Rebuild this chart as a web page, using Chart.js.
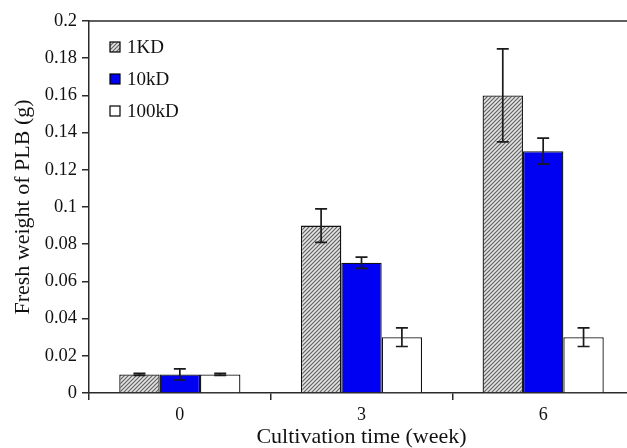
<!DOCTYPE html>
<html>
<head>
<meta charset="utf-8">
<script src="https://cdn.jsdelivr.net/npm/chart.js@4.4.0/dist/chart.umd.min.js"></script>
<style>
  html, body { margin: 0; padding: 0; background: #fff; overflow: hidden; }
  #wrap { width: 627px; height: 448px; overflow: hidden; }
</style>
</head>
<body>
<div id="wrap"><canvas id="plbChart" width="660" height="448"></canvas></div>
<script>
// Data
const weeks = ['0', '3', '6'];
const oneKD = [0.01, 0.09, 0.16];
const oneKDErr = [0.0005, 0.009, 0.025];
const tenKD = [0.01, 0.07, 0.13];
const tenKDErr = [0.003, 0.003, 0.007];
const hundredKD = [0.01, 0.03, 0.03];
const hundredKDErr = [0.0005, 0.005, 0.005];
const yTicks = [0, 0.02, 0.04, 0.06, 0.08, 0.1, 0.12, 0.14, 0.16, 0.18, 0.2];

const serif = 'Liberation Serif';

// Hatched fill for the 1KD bars
function makeHatch() {
  const c = document.createElement('canvas');
  c.width = 4;
  c.height = 4;
  const g = c.getContext('2d');
  g.fillStyle = '#e4e4e4';
  g.fillRect(0, 0, 4, 4);
  g.strokeStyle = '#626262';
  g.lineWidth = 1.2;
  g.beginPath();
  g.moveTo(-1, 5); g.lineTo(5, -1);
  g.moveTo(-1, 1); g.lineTo(1, -1);
  g.moveTo(3, 5); g.lineTo(5, 3);
  g.stroke();
  return g.createPattern(c, 'repeat');
}

// Error bars drawn from the y scale
const errorBars = {
  id: 'errorBars',
  afterDatasetsDraw(chart) {
    const ctx = chart.ctx;
    const y = chart.scales.y;
    ctx.save();
    ctx.strokeStyle = '#1a1a1a';
    ctx.lineWidth = 1.7;
    chart.data.datasets.forEach((ds, di) => {
      const meta = chart.getDatasetMeta(di);
      meta.data.forEach((bar, i) => {
        const v = ds.data[i];
        const e = ds.errors[i];
        const top = y.getPixelForValue(v + e);
        const bot = y.getPixelForValue(v - e);
        const half = 6;
        ctx.beginPath();
        ctx.moveTo(bar.x, top); ctx.lineTo(bar.x, bot);
        ctx.moveTo(bar.x - half, top); ctx.lineTo(bar.x + half, top);
        ctx.moveTo(bar.x - half, bot); ctx.lineTo(bar.x + half, bot);
        ctx.stroke();
      });
    });
    ctx.restore();
  }
};

// Top frame line and the legend
const frame = {
  id: 'frame',
  afterDraw(chart) {
    const ctx = chart.ctx;
    const a = chart.chartArea;
    ctx.save();
    ctx.strokeStyle = '#2a2a2a';
    ctx.lineWidth = 1.5;
    ctx.beginPath();
    ctx.moveTo(a.left, a.top); ctx.lineTo(a.right, a.top);
    ctx.stroke();

    ctx.font = '19px "' + serif + '"';
    ctx.textBaseline = 'middle';
    ctx.textAlign = 'left';
    chart.data.datasets.forEach((ds, i) => {
      const cy = a.top + 26 + i * 32;
      const bx = a.left + 21;
      ctx.fillStyle = ds.backgroundColor;
      ctx.fillRect(bx, cy - 5, 10, 10);
      ctx.lineWidth = 1.2;
      ctx.strokeStyle = '#000';
      ctx.strokeRect(bx, cy - 5, 10, 10);
      ctx.fillStyle = '#111';
      ctx.fillText(ds.label, bx + 17, cy + 1);
    });
    ctx.restore();
  }
};

const ctx = document.getElementById('plbChart');
new Chart(ctx, {
  type: 'bar',
  data: {
    labels: weeks,
    datasets: [
      { label: '1KD', data: oneKD, errors: oneKDErr, backgroundColor: makeHatch() },
      { label: '10kD', data: tenKD, errors: tenKDErr, backgroundColor: '#0000f2' },
      { label: '100kD', data: hundredKD, errors: hundredKDErr, backgroundColor: '#ffffff' }
    ]
  },
  options: {
    responsive: false,
    animation: false,
    devicePixelRatio: 1,
    layout: { padding: { top: 21, right: 26, left: 0, bottom: 0 } },
    datasets: {
      bar: {
        barPercentage: 1,
        categoryPercentage: 0.667,
        borderColor: '#111',
        borderWidth: 1.3
      }
    },
    plugins: {
      legend: { display: false },
      tooltip: { enabled: false }
    },
    scales: {
      x: {
        afterFit(scale) { scale.height = 55; },
        grid: {
          display: true,
          drawOnChartArea: false,
          offset: true,
          color: '#2a2a2a',
          lineWidth: 1.5,
          tickLength: 7
        },
        border: { display: true, color: '#2a2a2a', width: 1.5 },
        ticks: {
          color: '#111',
          padding: 4,
          font: { family: serif, size: 18 }
        },
        title: {
          display: true,
          text: 'Cultivation time (week)',
          color: '#111',
          padding: { top: 0, bottom: 0 },
          font: { family: serif, size: 22, lineHeight: 1 }
        }
      },
      y: {
        min: 0,
        max: 0.2,
        afterFit(scale) { scale.width = 89; },
        afterBuildTicks(scale) { scale.ticks = yTicks.map(v => ({ value: v })); },
        grid: {
          display: true,
          drawOnChartArea: false,
          color: '#2a2a2a',
          lineWidth: 1.5,
          tickLength: 7
        },
        border: { display: true, color: '#2a2a2a', width: 1.5 },
        ticks: {
          color: '#111',
          padding: 5,
          font: { family: serif, size: 18.5 },
          callback: v => String(parseFloat(v.toFixed(2)))
        },
        title: {
          display: true,
          text: 'Fresh weight of PLB (g)',
          color: '#111',
          padding: { top: 12, bottom: 0 },
          font: { family: serif, size: 22, lineHeight: 1 }
        }
      }
    }
  },
  plugins: [errorBars, frame]
});
</script>
</body>
</html>
